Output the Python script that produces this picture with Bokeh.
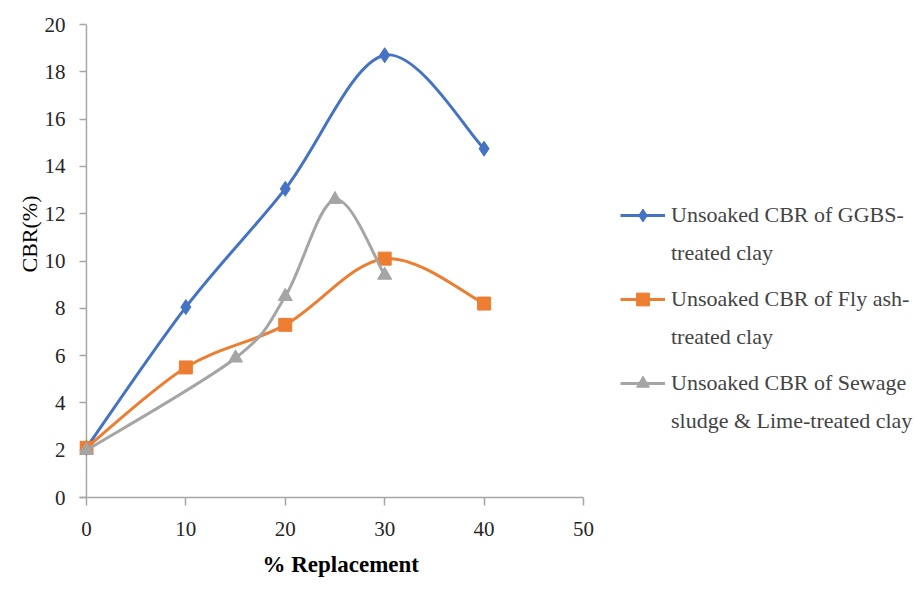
import numpy as np
from bokeh.plotting import figure
from bokeh.models import Range1d, Legend, LegendItem, FixedTicker, Span, Title
from bokeh.embed import file_html
from bokeh.resources import INLINE

# ---- data ----
ggbs_x = [0, 10, 20, 30, 40]
ggbs_y = [2.1, 8.05, 13.05, 18.7, 14.75]
fly_x = [0, 10, 20, 30, 40]
fly_y = [2.1, 5.5, 7.3, 10.1, 8.2]
sludge_x = [0, 15, 20, 25, 30]
sludge_y = [2.0, 5.9, 8.5, 12.6, 9.4]
x_ticks = [0, 10, 20, 30, 40, 50]
y_ticks = [0, 2, 4, 6, 8, 10, 12, 14, 16, 18, 20]
labels_line1 = ["Unsoaked CBR of GGBS-", "Unsoaked CBR of Fly ash-", "Unsoaked CBR of Sewage"]
labels_line2 = ["treated clay", "treated clay", "sludge & Lime-treated clay"]
colors = ["#4472c4", "#ed7d31", "#a5a5a5"]
x_title = "% Replacement"
y_title = "CBR(%)"

FONT = "Liberation Serif"


def smooth_segments(xs, ys, t=1 / 6):
    # Bezier control points for a smoothed line through the data points
    x = np.array(xs, float)
    y = np.array(ys, float)
    n = len(x)
    xp = np.concatenate([[x[0]], x, [x[-1]]])
    yp = np.concatenate([[y[0]], y, [y[-1]]])
    out = dict(x0=[], y0=[], x1=[], y1=[], cx0=[], cy0=[], cx1=[], cy1=[])
    for i in range(n - 1):
        a, b, c, d = i, i + 1, i + 2, i + 3
        out["x0"].append(xp[b]); out["y0"].append(yp[b])
        out["x1"].append(xp[c]); out["y1"].append(yp[c])
        out["cx0"].append(xp[b] + (xp[c] - xp[a]) * t)
        out["cy0"].append(yp[b] + (yp[c] - yp[a]) * t)
        out["cx1"].append(xp[c] - (xp[d] - xp[b]) * t)
        out["cy1"].append(yp[c] - (yp[d] - yp[b]) * t)
    return out


# frame spans to the right edge so the legend (drawn inside it) is not clipped
p = figure(width=914, height=592, x_range=Range1d(-0.7, 83.3), y_range=Range1d(0, 20),
           output_backend="svg", toolbar_location=None,
           min_border_left=79, min_border_right=0, min_border_top=24, min_border_bottom=95)
p.outline_line_color = None
p.xgrid.grid_line_color = None
p.ygrid.grid_line_color = None

axis_color = "#a6a6a6"
for ax in (p.xaxis[0], p.yaxis[0]):
    ax.axis_line_color = axis_color
    ax.axis_line_width = 1.5
    ax.major_tick_line_color = axis_color
    ax.major_tick_line_width = 1.5
    ax.minor_tick_line_color = None
    ax.major_label_text_font = FONT
    ax.major_label_text_font_size = "21px"
    ax.major_label_text_color = "#262626"

p.xaxis.ticker = FixedTicker(ticks=x_ticks)
p.yaxis.ticker = FixedTicker(ticks=y_ticks)
p.xaxis.bounds = (-0.7, 50)
p.xaxis.major_tick_in = 0
p.xaxis.major_tick_out = 8
p.xaxis.major_label_standoff = 16

# y axis: labels at frame edge, line drawn at x = 0 by a span
p.yaxis.axis_line_color = None
p.yaxis.major_tick_in = 7
p.yaxis.major_tick_out = 0
p.yaxis.major_label_standoff = 14

yline = Span(location=0, dimension="height", line_color=axis_color, line_width=1.5, level="underlay")
p.add_layout(yline)

# axis titles (placed as titles so they can be positioned like the reference)
p.add_layout(Title(text=x_title, align="left", offset=183, standoff=27, text_font=FONT,
                   text_font_size="23px", text_font_style="bold", text_color="#000000",
                   vertical_align="top"), "below")
p.add_layout(Title(text=y_title, align="left", offset=225, standoff=0, text_font=FONT,
                   text_font_size="22px", text_font_style="normal", text_color="#000000"), "left")

series = [(ggbs_x, ggbs_y, "diamond", 15), (fly_x, fly_y, "square", 13), (sludge_x, sludge_y, "triangle", 14)]
items_a, items_b = [], []
for (xs, ys, marker, size), col, l1, l2 in zip(series, colors, labels_line1, labels_line2):
    seg = smooth_segments(xs, ys)
    p.bezier(x0="x0", y0="y0", x1="x1", y1="y1", cx0="cx0", cy0="cy0", cx1="cx1", cy1="cy1",
             source=seg, line_color=col, line_width=3)
    sc = p.scatter(xs, ys, marker=marker, size=size, fill_color=col, line_color=col)
    proxy = p.line(x=[np.nan], y=[np.nan], line_color=col, line_width=3)
    blank = p.line(x=[np.nan], y=[np.nan], line_alpha=0)
    items_a.append(LegendItem(label=l1, renderers=[proxy, sc]))
    items_b.append(LegendItem(label=l2, renderers=[blank]))

common = dict(glyph_width=45, label_standoff=6, padding=0, margin=0,
              label_text_font=FONT, label_text_font_size="22px", label_text_line_height=1.2,
              label_height=26, border_line_color=None, background_fill_alpha=0)
legend_a = Legend(items=items_a, location=(541, 98), glyph_height=32, spacing=52, **common)
legend_b = Legend(items=items_b, location=(541, 63), glyph_height=20, spacing=58, **common)
p.add_layout(legend_a, "center")
p.add_layout(legend_b, "center")

open("out.html", "w").write(file_html(p, INLINE))
